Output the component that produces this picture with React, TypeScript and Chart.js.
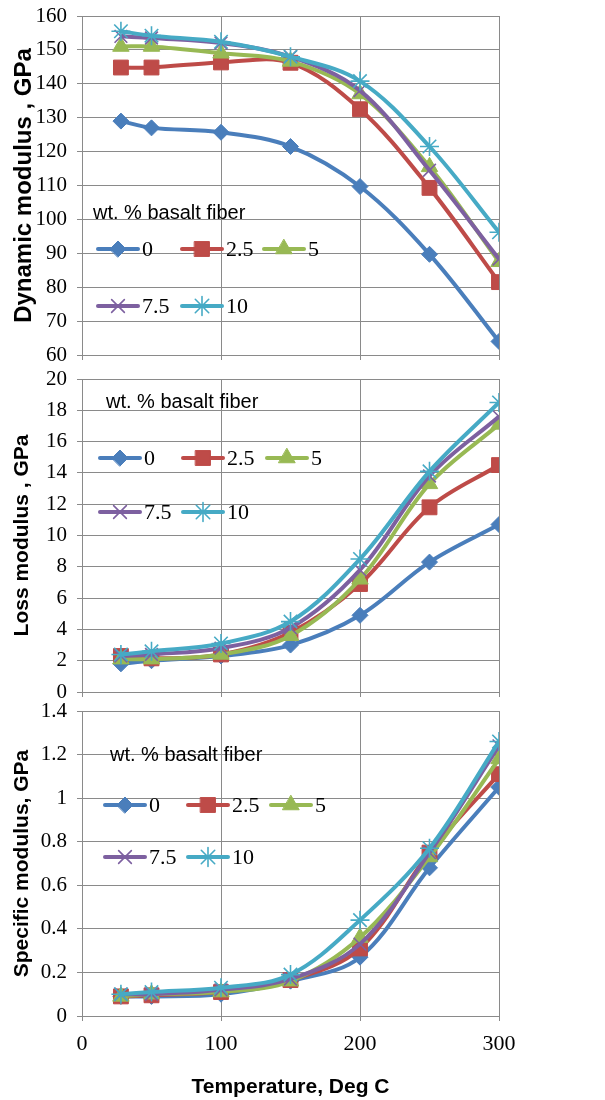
import React, { useEffect, useRef } from 'react';
import { Chart, registerables } from 'chart.js';
import { drawPoint } from 'chart.js/helpers';

Chart.register(...registerables);

// ---------- data ----------
const temperatures = [28, 50, 100, 150, 200, 250, 300];
const fiberContents = ['0', '2.5', '5', '7.5', '10'];

const dynamic0 = [129, 127, 125.7, 121.5, 109.7, 89.7, 64];
const dynamic25 = [144.8, 144.8, 146.3, 146.2, 132.5, 109.3, 81.5];
const dynamic5 = [151, 151, 149, 146.6, 137, 115.5, 87.5];
const dynamic75 = [154, 153.5, 152, 148, 138, 114.5, 88.3];
const dynamic10 = [155.5, 154.2, 152.4, 148, 140.8, 121.5, 96.2];

const loss0 = [1.8, 2.0, 2.3, 3.0, 4.9, 8.3, 10.7];
const loss25 = [2.3, 2.15, 2.4, 3.8, 6.9, 11.8, 14.5];
const loss5 = [2.1, 2.1, 2.4, 3.6, 7.2, 13.3, 17.1];
const loss75 = [2.3, 2.4, 2.8, 4.1, 7.8, 13.8, 17.6];
const loss10 = [2.4, 2.6, 3.1, 4.5, 8.5, 14.1, 18.5];

const specific0 = [0.09, 0.09, 0.1, 0.16, 0.27, 0.68, 1.05];
const specific25 = [0.09, 0.095, 0.11, 0.165, 0.31, 0.75, 1.11];
const specific5 = [0.09, 0.1, 0.11, 0.16, 0.36, 0.73, 1.18];
const specific75 = [0.1, 0.1, 0.12, 0.17, 0.33, 0.75, 1.24];
const specific10 = [0.1, 0.11, 0.13, 0.19, 0.44, 0.77, 1.26];

const xTicks = [0, 100, 200, 300];

// ---------- styles ----------
const colors = ['#4A7EBB', '#BE4B48', '#98B954', '#7D60A0', '#46AAC5'];
const pointStyles = ['rectRot', 'rect', 'triangle', 'crossRot', 'star'];
const pointRadii = [8, 10.5, 9.5, 9, 9.5];
const gridColor = '#8a8a8a';
const serif = 'Liberation Serif';
const sans = 'Liberation Sans';

const legendPlugin = {
  id: 'insideLegend',
  afterDraw(chart: any, _args: any, opts: any) {
    if (!opts || !opts.title) return;
    const ctx = chart.ctx;
    ctx.save();
    ctx.fillStyle = '#000';
    ctx.font = `20px ${sans}`;
    ctx.textAlign = 'left';
    ctx.textBaseline = 'middle';
    ctx.fillText(opts.title, opts.titleX, opts.titleY);
    chart.data.datasets.forEach((ds: any, i: number) => {
      const row = i < 3 ? 0 : 1;
      const col = i < 3 ? i : i - 3;
      const x0 = opts.cols[col];
      const y = opts.rows[row];
      const x1 = x0 + opts.lineLen;
      ctx.strokeStyle = ds.borderColor;
      ctx.lineWidth = ds.borderWidth;
      ctx.lineCap = 'round';
      ctx.beginPath();
      ctx.moveTo(x0, y);
      ctx.lineTo(x1, y);
      ctx.stroke();
      ctx.fillStyle = ds.pointBackgroundColor;
      ctx.strokeStyle = ds.pointBorderColor;
      ctx.lineWidth = ds.pointBorderWidth;
      drawPoint(ctx, { pointStyle: ds.pointStyle, radius: ds.pointRadius, rotation: 0, borderWidth: ds.pointBorderWidth }, (x0 + x1) / 2, y);
      ctx.fillStyle = '#000';
      ctx.font = `22px ${serif}`;
      ctx.textBaseline = 'middle';
      ctx.fillText(fiberContents[i], x1 + 4, y + 1);
    });
    ctx.restore();
  },
};

type Panel = {
  top: number;
  height: number;
  padTop: number;
  xHeight: number;
  yMin: number;
  yMax: number;
  yStep: number;
  yTitle: string;
  yTitleSize: number;
  series: number[][];
  legend: any;
  last: boolean;
};

const panels: Panel[] = [
  {
    top: 0, height: 372, padTop: 16, xHeight: 17,
    yMin: 60, yMax: 160, yStep: 10,
    yTitle: 'Dynamic modulus , GPa', yTitleSize: 24,
    series: [dynamic0, dynamic25, dynamic5, dynamic75, dynamic10],
    legend: { title: 'wt. % basalt fiber', titleX: 93, titleY: 213, cols: [98, 182, 264], rows: [249, 306], lineLen: 40 },
    last: false,
  },
  {
    top: 363, height: 345, padTop: 16, xHeight: 16,
    yMin: 0, yMax: 20, yStep: 2,
    yTitle: 'Loss modulus , GPa', yTitleSize: 21,
    series: [loss0, loss25, loss5, loss75, loss10],
    legend: { title: 'wt. % basalt fiber', titleX: 106, titleY: 39, cols: [100, 183, 267], rows: [95, 149], lineLen: 40 },
    last: false,
  },
  {
    top: 695, height: 405, padTop: 16, xHeight: 84,
    yMin: 0, yMax: 1.4, yStep: 0.2,
    yTitle: 'Specific modulus, GPa', yTitleSize: 21,
    series: [specific0, specific25, specific5, specific75, specific10],
    legend: { title: 'wt. % basalt fiber', titleX: 110, titleY: 60, cols: [105, 188, 271], rows: [110, 162], lineLen: 40 },
    last: true,
  },
];

function PanelChart({ p }: { p: Panel }) {
  const ref = useRef<HTMLCanvasElement | null>(null);
  useEffect(() => {
    if (!ref.current) return;
    const datasets = p.series.map((vals, i) => ({
      label: fiberContents[i],
      data: temperatures.map((t, k) => ({ x: t, y: vals[k] })),
      borderColor: colors[i],
      backgroundColor: colors[i],
      borderWidth: 4,
      tension: 0.35,
      pointStyle: pointStyles[i],
      pointRadius: pointRadii[i],
      pointBackgroundColor: colors[i],
      pointBorderColor: colors[i],
      pointBorderWidth: i >= 3 ? 1.6 : 1,
      order: 4 - i,
    }));
    const chart = new Chart(ref.current, {
      type: 'line',
      data: { datasets },
      plugins: [legendPlugin],
      options: {
        animation: false,
        responsive: false,
        maintainAspectRatio: false,
        layout: { padding: { top: p.padTop, left: 0, right: 106, bottom: 0 } },
        plugins: {
          legend: { display: false },
          tooltip: { enabled: false },
          insideLegend: p.legend,
        } as any,
        scales: {
          x: {
            type: 'linear',
            min: 0,
            max: 300,
            afterBuildTicks: (scale: any) => { scale.ticks = xTicks.map((v) => ({ value: v })); },
            afterFit: (scale: any) => {
              scale.height = p.xHeight;
              scale.paddingLeft = 0;
              scale.paddingRight = 0;
            },
            ticks: {
              display: p.last,
              color: '#000',
              padding: 10,
              maxRotation: 0,
              font: { family: serif, size: 22 },
            },
            grid: { color: gridColor, lineWidth: 1, tickLength: 5, drawTicks: true },
            border: { color: gridColor, width: 1 },
            title: {
              display: p.last,
              text: 'Temperature, Deg C',
              color: '#000',
              font: { family: sans, size: 21, weight: 'bold' },
              padding: { top: 0, bottom: 0 },
            },
          },
          y: {
            type: 'linear',
            min: p.yMin,
            max: p.yMax,
            afterFit: (scale: any) => {
              scale.width = 82;
              scale.paddingTop = 0;
              scale.paddingBottom = 0;
            },
            ticks: {
              stepSize: p.yStep,
              color: '#000',
              padding: 10,
              font: { family: serif, size: 21 },
              callback: (v: any) => String(Math.round(Number(v) * 10) / 10),
            },
            grid: { color: gridColor, lineWidth: 1, tickLength: 5 },
            border: { color: gridColor, width: 1 },
            title: {
              display: true,
              text: p.yTitle,
              color: '#000',
              font: { family: sans, size: p.yTitleSize, weight: 'bold' },
              padding: { top: 10, bottom: 0 },
            },
          },
        },
      } as any,
    });
    return () => chart.destroy();
  }, [p]);
  return (
    <canvas
      ref={ref}
      width={605}
      height={p.height}
      style={{ position: 'absolute', left: 0, top: p.top, width: 605, height: p.height }}
    />
  );
}

export default function App() {
  return (
    <div style={{ position: 'absolute', left: 0, top: 0, width: 605, height: 1100, background: '#fff' }}>
      {panels.map((p, i) => (
        <PanelChart key={i} p={p} />
      ))}
    </div>
  );
}
